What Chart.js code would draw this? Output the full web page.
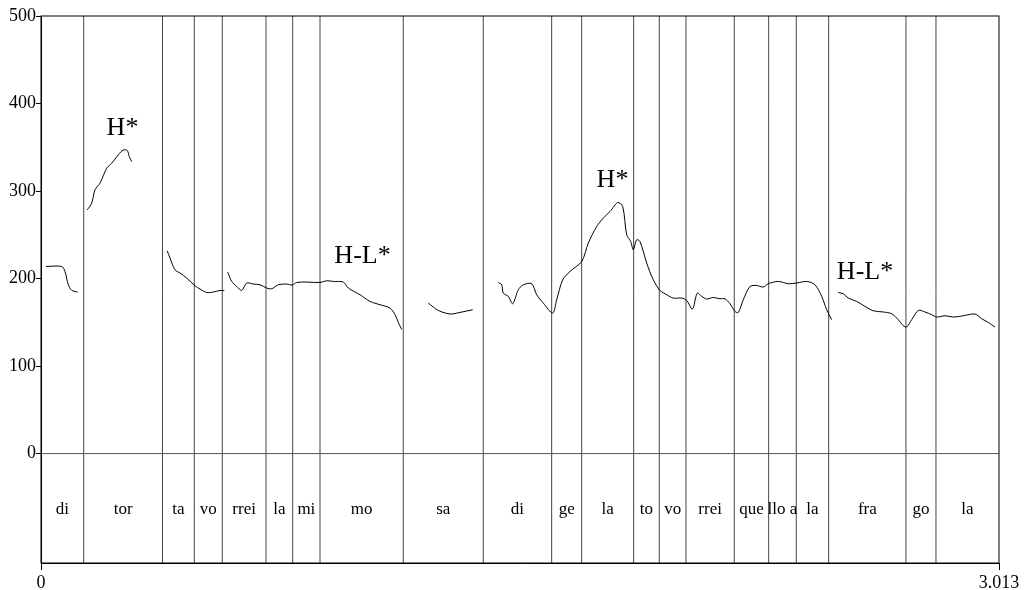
<!DOCTYPE html>
<html>
<head>
<meta charset="utf-8">
<script src="https://cdn.jsdelivr.net/npm/chart.js@4/dist/chart.umd.min.js"></script>
<style>
  body { margin: 0; background: #fff; }
  #wrap { width: 1026px; height: 590px; position: relative; }
</style>
</head>
<body>
<div id="wrap"><canvas id="pitchChart"></canvas></div>
<script>
// Tick labels for the axes
const yTicks = [0, 100, 200, 300, 400, 500];
const xTicks = [0, 3.013];

// Syllable tier: boundary times (s) and the syllable in each interval
const boundaries = [0, 0.1343, 0.3821, 0.4821, 0.5702, 0.7076, 0.7916, 0.8775, 1.1394, 1.3910,
  1.6061, 1.7005, 1.8640, 1.9446, 2.0285, 2.1804, 2.2886, 2.3754, 2.4773, 2.7204, 2.8148, 3.013];
const syllables = ['di', 'tor', 'ta', 'vo', 'rrei', 'la', 'mi', 'mo', 'sa', 'di',
  'ge', 'la', 'to', 'vo', 'rrei', 'que', 'llo a', 'la', 'fra', 'go', 'la'];

// Tone labels placed above the contour
const accentLabels = ['H*', 'H-L*', 'H*', 'H-L*'];
const accentTimes = [0.2563, 1.0112, 1.7974, 2.5916];
const accentHz = [372, 226, 312, 207];

// F0 contour, one piece per voiced stretch (time in s, pitch in Hz)
const contourTimes = [
  [0.0157, 0.0651, 0.0755, 0.0859, 0.0966, 0.1154],
  [0.1456, 0.1595, 0.1698, 0.1856, 0.2066, 0.2224, 0.2431, 0.2588, 0.2714, 0.2777, 0.2853],
  [0.3972, 0.4057, 0.4214, 0.4372, 0.4582, 0.4843, 0.5001, 0.5211, 0.5419, 0.5630, 0.5765],
  [0.5872, 0.5998, 0.6155, 0.6312, 0.6470, 0.6677, 0.6888, 0.7099, 0.7256, 0.7463, 0.7728, 0.7904, 0.8042,
   0.8357, 0.8775, 0.8985, 0.9193, 0.9508, 0.9665, 1.0033, 1.0347, 1.0662, 1.0976, 1.1134, 1.1269, 1.1344],
  [1.2181, 1.2495, 1.2863, 1.3178, 1.3577],
  [1.4383, 1.4489, 1.4540, 1.4697, 1.4835, 1.5012, 1.5169, 1.5433, 1.5590, 1.5798, 1.6094, 1.6219, 1.6408,
   1.6638, 1.7006, 1.7213, 1.7477, 1.7685, 1.7896, 1.8138, 1.8295, 1.8421, 1.8547, 1.8628, 1.8735, 1.8839,
   1.9050, 1.9257, 1.9468, 1.9679, 1.9887, 2.0151, 2.0308, 2.0465, 2.0515, 2.0641, 2.0780, 2.0937, 2.1145,
   2.1355, 2.1513, 2.1670, 2.1827, 2.1931, 2.2088, 2.2299, 2.2510, 2.2717, 2.2874, 2.3189, 2.3503, 2.3768,
   2.4082, 2.4343, 2.4554, 2.4711, 2.4868],
  [2.5076, 2.5233, 2.5390, 2.5655, 2.5916, 2.6177, 2.6492, 2.6755, 2.6963, 2.7120, 2.7226, 2.7384, 2.7592,
   2.7803, 2.8013, 2.8171, 2.8432, 2.8693, 2.9007, 2.9375, 2.9585, 2.9793, 3.0004]
];
const contourHz = [
  [213.8, 213.8, 208, 193, 186.6, 184.6],
  [278.5, 286.2, 301.4, 309, 326.1, 331.8, 341.3, 347, 346.2, 339.4, 333.7],
  [231.7, 223.4, 210, 206.3, 200.6, 191.8, 188, 184.1, 184.6, 186.4, 186.4],
  [207.4, 196.7, 191, 186.4, 194.9, 193.7, 192.9, 189.2, 188.4, 192.9, 193.7, 192.6, 195.5,
   196, 195.5, 197.5, 196.7, 196, 189.2, 181.5, 173.9, 170.1, 166.3, 158.7, 147.3, 142],
  [172, 163.6, 159.5, 161.3, 164.4],
  [195.5, 192.9, 183.4, 179.6, 171.2, 187.2, 192.9, 194.1, 181.5, 172, 160.6, 175.8, 198.6,
   208.1, 219.5, 240.5, 259.5, 269.1, 276.6, 286.9, 282.3, 250, 242.4, 232.9, 244.3, 242.4,
   217.7, 198.6, 186.4, 181.5, 177.7, 177.7, 175, 165.2, 166.3, 183.4, 179.6, 176.6, 178.4,
   176.9, 176.9, 171.2, 162.4, 161.3, 175.8, 191, 192.1, 190.3, 194.1, 196.7, 194.1, 194.9,
   196.7, 192.9, 179.6, 164.4, 153],
  [184.1, 182.6, 177.7, 173.9, 168.2, 163.2, 161.8, 159.8, 153, 146.1, 144.6, 153, 163.6,
   161.8, 158.7, 156, 157.5, 156, 157.5, 159.5, 154.1, 149.9, 144.6]
];

const serif = "'Liberation Serif', 'Times New Roman', serif";
Chart.defaults.font.family = serif;
Chart.defaults.color = '#000';

// Draws the frame, the zero line, the syllable boundaries and all the text labels
const tierPlugin = {
  id: 'tierPlugin',
  beforeDatasetsDraw(chart) {
    const { ctx, chartArea: a, scales: { x, y } } = chart;
    ctx.save();
    ctx.strokeStyle = '#444';
    ctx.lineWidth = 1;
    boundaries.slice(1, -1).forEach(t => {
      const px = x.getPixelForValue(t);
      ctx.beginPath();
      ctx.moveTo(px, a.top);
      ctx.lineTo(px, a.bottom);
      ctx.stroke();
    });
    const y0 = y.getPixelForValue(0);
    ctx.strokeStyle = '#555';
    ctx.beginPath();
    ctx.moveTo(a.left, y0);
    ctx.lineTo(a.right, y0);
    ctx.stroke();
    ctx.strokeStyle = '#000';
    ctx.strokeRect(a.left, a.top, a.right - a.left, a.bottom - a.top);
    ctx.restore();
  },
  afterDatasetsDraw(chart) {
    const { ctx, scales: { x, y } } = chart;
    ctx.save();
    ctx.fillStyle = '#000';
    ctx.textAlign = 'center';
    ctx.textBaseline = 'middle';
    ctx.font = '17px ' + serif;
    const ty = y.getPixelForValue(-64);
    syllables.forEach((s, i) => {
      const mid = (boundaries[i] + boundaries[i + 1]) / 2;
      ctx.fillText(s, x.getPixelForValue(mid), ty);
    });
    ctx.font = '26px ' + serif;
    accentLabels.forEach((s, i) => {
      ctx.fillText(s, x.getPixelForValue(accentTimes[i]), y.getPixelForValue(accentHz[i]));
    });
    ctx.restore();
  }
};

const datasets = contourTimes.map((times, k) => ({
  data: times.map((t, i) => ({ x: t, y: contourHz[k][i] })),
  showLine: true,
  borderColor: '#000',
  borderWidth: 1,
  pointRadius: 0,
  tension: 0.3,
  fill: false
}));

new Chart(document.getElementById('pitchChart'), {
  type: 'scatter',
  data: { datasets },
  plugins: [tierPlugin],
  options: {
    responsive: true,
    maintainAspectRatio: false,
    animation: false,
    layout: { padding: { top: 16, right: 27, left: 0, bottom: 0 } },
    plugins: { legend: { display: false }, tooltip: { enabled: false } },
    scales: {
      x: {
        type: 'linear',
        min: 0,
        max: 3.013,
        afterBuildTicks: axis => { axis.ticks = xTicks.map(v => ({ value: v })); },
        afterFit: axis => { axis.height = 27; },
        ticks: {
          font: { size: 18 },
          padding: 2,
          maxRotation: 0,
          autoSkip: false,
          callback: v => (v === 0 ? '0' : '3.013')
        },
        grid: { drawOnChartArea: false, tickLength: 7, color: '#000' },
        border: { color: '#000' }
      },
      y: {
        min: -125,
        max: 500,
        afterBuildTicks: axis => { axis.ticks = yTicks.map(v => ({ value: v })); },
        afterFit: axis => { axis.width = 41; },
        ticks: { font: { size: 18 }, padding: 0, autoSkip: false },
        grid: { drawOnChartArea: false, tickLength: 5, color: '#000' },
        border: { color: '#000' }
      }
    }
  }
});
</script>
</body>
</html>
